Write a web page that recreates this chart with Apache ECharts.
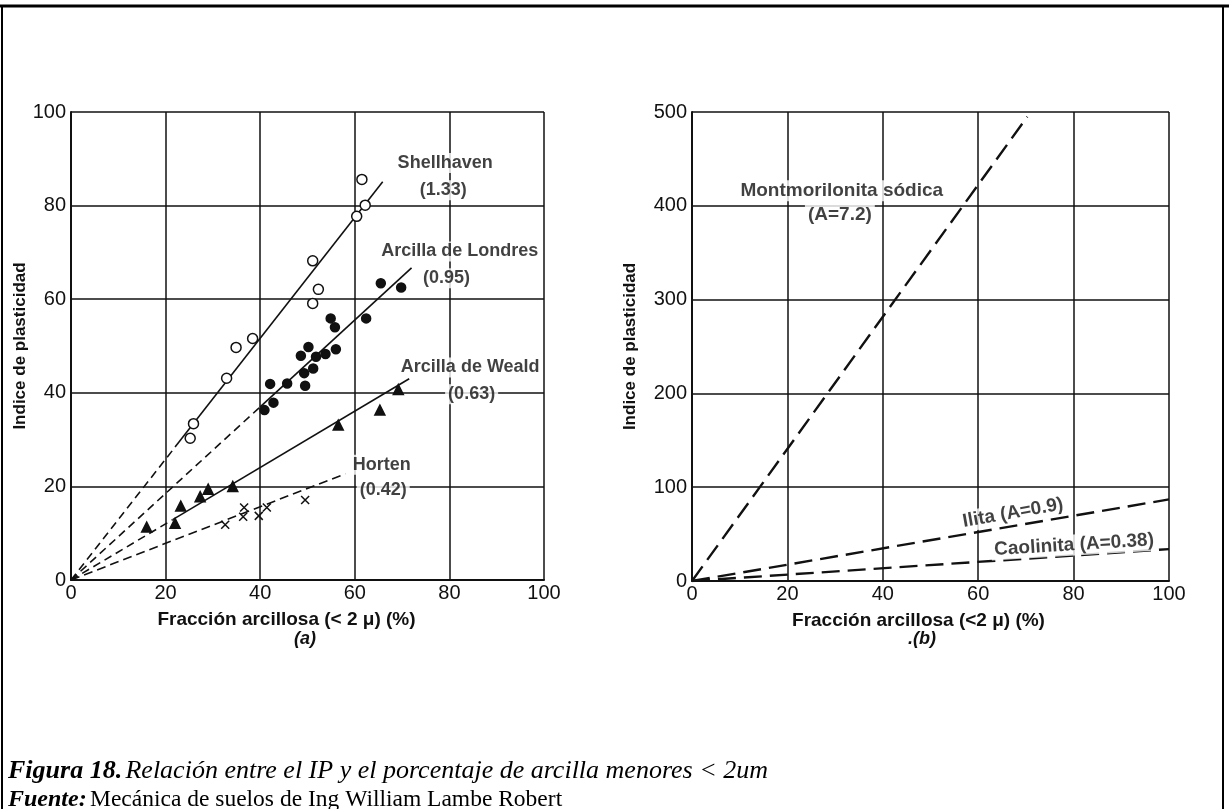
<!DOCTYPE html>
<html>
<head>
<meta charset="utf-8">
<script src="https://cdn.jsdelivr.net/npm/echarts@6/dist/echarts.min.js"></script>
<style>
  html, body { margin: 0; padding: 0; background: #fff; }
  #main { width: 1229px; height: 809px; }
</style>
</head>
<body>
<div id="main"></div>
<script>
// ---- panel (a): fracción arcillosa vs índice de plasticidad
const shellPts = [[61.5,85.6],[62.2,80.1],[60.4,77.7],[51.1,68.2],[52.3,62.1],[51.1,59.1],
  [38.4,51.6],[34.9,49.7],[32.9,43.1],[25.9,33.4],[25.2,30.3]];
const londresPts = [[65.5,63.4],[69.8,62.5],[62.4,55.9],[54.9,55.9],[55.8,54.0],[50.2,49.8],
  [56.0,49.3],[48.6,47.9],[51.8,47.7],[53.8,48.3],[51.2,45.2],[49.3,44.2],[42.1,41.9],
  [45.7,42.0],[49.5,41.5],[42.8,37.9],[40.9,36.3]];
const wealdPts = [[69.2,40.7],[65.3,36.3],[56.5,33.1],[34.2,20.0],[29.0,19.4],[27.3,17.8],
  [23.2,15.8],[22.0,12.1],[16.0,11.3]];
const hortenPts = [[49.5,17.1],[41.4,15.5],[39.7,13.7],[36.6,15.5],[36.4,13.5],[32.6,11.8]];

const shellDash = [[0,0],[22,28.4]];
const shellSolid = [[22,28.4],[65.9,85.1]];
const londresDash = [[0,0],[40,37]];
const londresSolid = [[40,37],[72,66.7]];
const wealdDash = [[0,0],[21.5,12.9]];
const wealdSolid = [[21.5,12.9],[71.5,43]];
const hortenDash = [[0,0],[58,22.7]];

const labelsA = [
  ['Shellhaven', 79.1, 89.1], ['(1.33)', 78.7, 83.3],
  ['Arcilla de Londres', 82.2, 70.2], ['(0.95)', 79.4, 64.5],
  ['Arcilla de Weald', 84.4, 45.4], ['(0.63)', 84.7, 39.7],
  ['Horten', 65.7, 24.6], ['(0.42)', 66.0, 19.2]
];

// ---- panel (b)
const montmoLine = [[0,0],[70.3,495]];
const ilitaLine = [[0,0],[100,87]];
const caolinitaLine = [[0,0],[100,34]];
const labelsB = [
  ['Montmorilonita sódica', 31.4, 416, 0], ['(A=7.2)', 31.0, 390, 0],
  ['Ilita (A=0.9)', 67.3, 72.5, 10], ['Caolinita (A=0.38)', 80.1, 38.4, 3.5]
];

const xMax = 100, xStep = 20;
const yMaxA = 100, yStepA = 20;
const yMaxB = 500, yStepB = 100;

var FONT = '"Liberation Sans Narrow", "Liberation Sans", Arial, sans-serif';
var myChart = echarts.init(document.getElementById('main'));

function axisX(gi, name, shift) {
  return {
    gridIndex: gi, type: 'value', min: 0, max: xMax, interval: xStep,
    name: name, nameLocation: 'middle', nameGap: 30,
    nameTextStyle: { fontFamily: FONT, fontSize: 19, fontWeight: 'bold', color: '#111',
      padding: [0, shift, 0, 0] },
    axisLine: { lineStyle: { color: '#111', width: 2 } },
    axisTick: { show: false },
    axisLabel: { fontFamily: FONT, fontSize: 20, color: '#111', margin: 3 },
    splitLine: { show: true, lineStyle: { color: '#111', width: 1.5 } }
  };
}
function axisY(gi, max, step, gap) {
  return {
    gridIndex: gi, type: 'value', min: 0, max: max, interval: step,
    name: 'Indice de plasticidad', nameLocation: 'middle', nameGap: gap,
    nameTextStyle: { fontFamily: FONT, fontSize: 17, fontWeight: 'bold', color: '#111' },
    axisLine: { lineStyle: { color: '#111', width: 2 } },
    axisTick: { show: false },
    axisLabel: { fontFamily: FONT, fontSize: 20, color: '#111', margin: 5 },
    splitLine: { show: true, lineStyle: { color: '#111', width: 1.5 } }
  };
}
function lineS(gi, data, dashed, width) {
  return {
    type: 'line', xAxisIndex: gi, yAxisIndex: gi, data: data, symbol: 'none',
    lineStyle: { color: '#111', width: width || 1.6, type: dashed || 'solid' },
    z: 3
  };
}
function pointS(data, symbol, size, fill) {
  return {
    type: 'scatter', xAxisIndex: 0, yAxisIndex: 0, data: data, symbol: symbol, symbolSize: size,
    itemStyle: { color: fill, borderColor: '#111', borderWidth: 1.5, opacity: 1 }, z: 4
  };
}
function labelS(gi, list, size) {
  return {
    type: 'scatter', xAxisIndex: gi, yAxisIndex: gi, symbolSize: 0, z: 5,
    data: list.map(d => ({ name: d[0], value: [d[1], d[2]], label: { rotate: d[3] || 0 } })),
    label: {
      show: true, position: 'inside', formatter: '{b}', fontFamily: FONT, fontSize: size,
      fontWeight: 'bold', color: '#111', backgroundColor: '#fff', padding: [1, 3]
    }
  };
}

var option = {
  animation: false,
  backgroundColor: '#fff',
  grid: [
    { left: 71, top: 112, width: 473, height: 468 },
    { left: 692, top: 112, width: 477, height: 469 }
  ],
  xAxis: [axisX(0, 'Fracción arcillosa (< 2 μ) (%)', 42), axisX(1, 'Fracción arcillosa (<2 μ) (%)', 24)],
  yAxis: [axisY(0, yMaxA, yStepA, 33), axisY(1, yMaxB, yStepB, 53)],
  series: [
    lineS(0, shellDash, [8, 5]), lineS(0, shellSolid),
    lineS(0, londresDash, [8, 5]), lineS(0, londresSolid),
    lineS(0, wealdDash, [8, 5]), lineS(0, wealdSolid),
    lineS(0, hortenDash, [9, 5]),
    pointS(shellPts, 'circle', 10, '#fff'),
    pointS(londresPts, 'circle', 9, '#111'),
    pointS(wealdPts, 'triangle', 10, '#111'),
    pointS(hortenPts, 'path://M0,0L10,10M10,0L0,10', 8, 'none'),
    lineS(1, montmoLine, [18, 8], 2.4),
    lineS(1, ilitaLine, [18, 8], 2.4),
    lineS(1, caolinitaLine, [18, 8], 2.4),
    labelS(0, labelsA, 18),
    labelS(1, labelsB, 19)
  ],
  graphic: [
    { type: 'line', shape: { x1: 0, y1: 6, x2: 1229, y2: 6 }, style: { stroke: '#000', lineWidth: 3 } },
    { type: 'line', shape: { x1: 2, y1: 6, x2: 2, y2: 809 }, style: { stroke: '#000', lineWidth: 2 } },
    { type: 'line', shape: { x1: 1223, y1: 6, x2: 1223, y2: 809 }, style: { stroke: '#000', lineWidth: 2 } },
    { type: 'text', left: 294, top: 630, style: { text: '(a)', fontFamily: FONT, fontStyle: 'italic', fontWeight: 'bold', fontSize: 18, fill: '#111' } },
    { type: 'text', left: 908, top: 630, style: { text: '.(b)', fontFamily: FONT, fontStyle: 'italic', fontWeight: 'bold', fontSize: 18, fill: '#111' } },
    { type: 'text', left: 8, top: 758, style: {
        text: '{b|Figura 18.} {i|Relación entre el IP y el porcentaje de arcilla menores < 2um}',
        rich: {
          b: { fontFamily: 'Liberation Serif', fontStyle: 'italic', fontWeight: 'bold', fontSize: 26, fill: '#000' },
          i: { fontFamily: 'Liberation Serif', fontStyle: 'italic', fontSize: 26, fill: '#000' }
        } } },
    { type: 'text', left: 8, top: 788, style: {
        text: '{b|Fuente:} {r|Mecánica de suelos de Ing William Lambe Robert}',
        rich: {
          b: { fontFamily: 'Liberation Serif', fontStyle: 'italic', fontWeight: 'bold', fontSize: 24, fill: '#000' },
          r: { fontFamily: 'Liberation Serif', fontSize: 23.5, fill: '#000' }
        } } }
  ]
};
option && myChart.setOption(option);
</script>
</body>
</html>
